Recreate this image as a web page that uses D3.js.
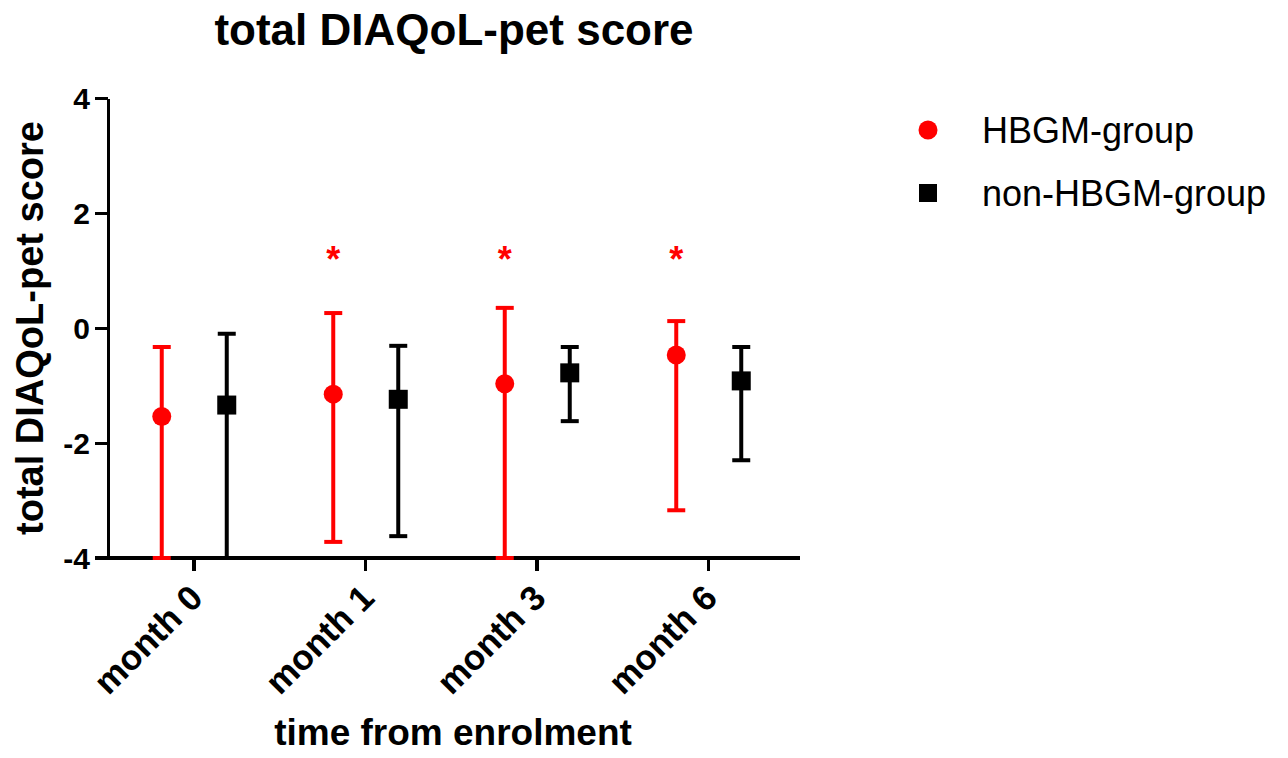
<!DOCTYPE html>
<html>
<head>
  <meta charset="utf-8">
  <title>total DIAQoL-pet score</title>
  <style>
  body {
    margin: 0;
    background: #fff;
    font-family: "Liberation Sans", Arial, Helvetica, sans-serif;
  }

  .axis path,
  .axis line {
    stroke: #000;
    stroke-width: 3.5;
    shape-rendering: crispedges;
  }

  .axis text {
    font-family: "Liberation Sans", Arial, sans-serif;
    font-weight: bold;
    font-size: 30px;
    fill: #000;
  }

  .axis.x text {
    font-size: 35px;
  }

  .title {
    font-weight: bold;
    font-size: 44px;
    text-anchor: middle;
  }

  .axis-title {
    font-weight: bold;
    font-size: 37px;
    text-anchor: middle;
  }

  .legend text {
    font-size: 36px;
    fill: #000;
  }

  .star {
    font-weight: bold;
    font-size: 36px;
    fill: #f00;
    text-anchor: middle;
  }
  </style>
  <script src="https://cdn.jsdelivr.net/npm/d3@7"></script>
</head>
<body>
<div id="container"></div>
<script>
var months = ["month 0", "month 1", "month 3", "month 6"]

// HBGM-group: mean with lower / upper error bar ends
var hbgmMean  = [-1.54, -1.15, -0.97, -0.47],
    hbgmLow   = [-4.0, -3.72, -4.0, -3.17],
    hbgmHigh  = [-0.33, 0.26, 0.35, 0.12]

// non-HBGM-group
var nonMean   = [-1.34, -1.24, -0.78, -0.92],
    nonLow    = [-4.0, -3.62, -1.62, -2.3],
    nonHigh   = [-0.1, -0.31, -0.33, -0.33]

var yTicks = [-4, -2, 0, 2, 4]
var starMonths = ["month 1", "month 3", "month 6"],
    starLevel = 1.32

var series = [
  { name: "HBGM-group", color: "#f00", shape: "circle", offset: -32, mean: hbgmMean, low: hbgmLow, high: hbgmHigh },
  { name: "non-HBGM-group", color: "#000", shape: "square", offset: 33, mean: nonMean, low: nonLow, high: nonHigh }
]

var W = 1288, H = 758

var svg = d3.select("#container").append("svg")
    .attr("width", W)
    .attr("height", H)

var x = d3.scaleBand()
  .domain(months)
  .range([108, 794])

var y = d3.scaleLinear()
  .domain([-4, 4])
  .range([558, 98])

function cx(m) { return x(m) + x.bandwidth() / 2 }

// title
svg.append("text")
  .attr("class", "title")
  .attr("x", 454)
  .attr("y", 45)
  .text("total DIAQoL-pet score")

// axes
var yax = svg.append("g")
  .attr("class", "axis y")
  .attr("transform", "translate(108,0)")
  .call(d3.axisLeft(y).tickValues(yTicks).tickSize(13).tickSizeOuter(0).tickPadding(5)
    .tickFormat(function(d) { return String(d) }))
yax.selectAll("text").attr("dy", "0.36em")

var xax = svg.append("g")
  .attr("class", "axis x")
  .attr("transform", "translate(0,558)")
  .call(d3.axisBottom(x).tickSize(13).tickSizeOuter(0))
xax.select(".domain").attr("d", "M95,0H800")
xax.selectAll(".tick text")
  .attr("x", 0).attr("y", 0).attr("dy", 0)
  .attr("text-anchor", "end")
  .attr("transform", "translate(11,42) rotate(-45)")

svg.append("text")
  .attr("class", "axis-title")
  .attr("x", 453)
  .attr("y", 745)
  .text("time from enrolment")

svg.append("text")
  .attr("class", "axis-title")
  .attr("transform", "translate(43,328) rotate(-90)")
  .style("font-size", "38px")
  .text("total DIAQoL-pet score")

// error bars + points
var cap = 9
series.forEach(function(s) {
  var g = svg.append("g").attr("class", "series")
  var rows = months.map(function(m, i) {
    return { m: m, mean: s.mean[i], low: s.low[i], high: s.high[i] }
  })

  var bar = g.selectAll(".bar")
    .data(rows)
  .enter().append("g")
    .attr("class", "bar")
    .attr("transform", function(d) { return "translate(" + (cx(d.m) + s.offset) + ",0)" })
    .attr("stroke", s.color)
    .attr("stroke-width", 4)

  bar.append("line")
    .attr("x1", 0).attr("x2", 0)
    .attr("y1", function(d) { return y(d.low) })
    .attr("y2", function(d) { return y(d.high) })
  bar.append("line")
    .attr("x1", -cap).attr("x2", cap)
    .attr("y1", function(d) { return y(d.high) })
    .attr("y2", function(d) { return y(d.high) })
  bar.append("line")
    .attr("x1", -cap).attr("x2", cap)
    .attr("y1", function(d) { return y(d.low) })
    .attr("y2", function(d) { return y(d.low) })

  if (s.shape == "circle") {
    bar.append("circle")
      .attr("cx", 0)
      .attr("cy", function(d) { return y(d.mean) })
      .attr("r", 9.5)
      .attr("stroke", "none")
      .attr("fill", s.color)
  } else {
    bar.append("rect")
      .attr("x", -9.5)
      .attr("y", function(d) { return y(d.mean) - 9.5 })
      .attr("width", 19)
      .attr("height", 19)
      .attr("stroke", "none")
      .attr("fill", s.color)
  }
})

// significance stars
svg.selectAll(".star")
  .data(starMonths)
.enter().append("text")
  .attr("class", "star")
  .attr("x", function(d) { return cx(d) + series[0].offset })
  .attr("y", y(starLevel))
  .attr("dy", "0.55em")
  .text("*")

// legend
var legend = svg.append("g")
  .attr("class", "legend")
  .attr("transform", "translate(928,130)")

var li = legend.selectAll(".item")
  .data(series)
.enter().append("g")
  .attr("class", "item")
  .attr("transform", function(d, i) { return "translate(0," + (i * 63) + ")" })

li.each(function(d) {
  var g = d3.select(this)
  if (d.shape == "circle") {
    g.append("circle").attr("r", 9.5).attr("fill", d.color)
  } else {
    g.append("rect").attr("x", -9).attr("y", -9).attr("width", 18).attr("height", 18).attr("fill", d.color)
  }
})

li.append("text")
  .attr("x", 54)
  .attr("y", 13)
  .text(function(d) { return d.name })
</script>
</body>
</html>
